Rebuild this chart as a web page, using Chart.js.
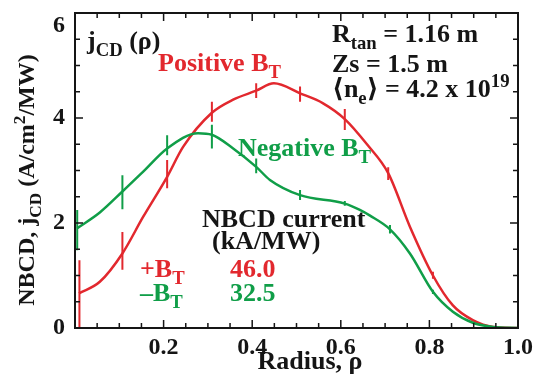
<!DOCTYPE html>
<html>
<head>
<meta charset="utf-8">
<script src="https://cdn.jsdelivr.net/npm/chart.js@4.4.0/dist/chart.umd.min.js"></script>
<style>
  html, body { margin: 0; padding: 0; background: #fff; }
  #wrap { width: 533px; height: 385px; }
</style>
</head>
<body>
<div id="wrap"><canvas id="c" width="533" height="385"></canvas></div>
<script>
// profiles (radius rho, j_CD in A/cm2/MW)
const rhoPos = [0.009, 0.056, 0.107, 0.154, 0.208, 0.244, 0.309, 0.357, 0.409, 0.449, 0.508, 0.56, 0.609, 0.66, 0.707, 0.756, 0.808, 0.853, 0.898, 0.944, 1.0];
const jPos   = [0.66, 0.88, 1.42, 2.12, 2.88, 3.45, 4.10, 4.35, 4.52, 4.66, 4.47, 4.28, 3.98, 3.49, 2.95, 1.93, 1.00, 0.43, 0.15, 0.02, 0];
const rhoNeg = [0.005, 0.056, 0.107, 0.154, 0.208, 0.278, 0.309, 0.357, 0.409, 0.44, 0.508, 0.609, 0.643, 0.666, 0.711, 0.756, 0.808, 0.853, 0.898, 0.944, 1.0];
const jNeg   = [1.90, 2.20, 2.60, 2.98, 3.42, 3.71, 3.68, 3.42, 3.07, 2.82, 2.53, 2.37, 2.25, 2.14, 1.88, 1.42, 0.69, 0.31, 0.10, 0.02, 0];

// error bars
const barRhoPos = [0.01, 0.107, 0.208, 0.309, 0.409, 0.508, 0.609, 0.707, 0.808];
const barLoPos  = [-0.3, 1.11, 2.66, 3.93, 4.38, 4.31, 3.77, 2.82, 0.94];
const barHiPos  = [1.29, 1.83, 3.20, 4.31, 4.66, 4.60, 4.17, 3.06, 1.07];
const barRhoNeg = [0.005, 0.107, 0.208, 0.309, 0.409, 0.508, 0.609, 0.711, 0.808];
const barLoNeg  = [1.48, 2.26, 3.29, 3.42, 2.95, 2.44, 2.33, 1.80, 0.65];
const barHiNeg  = [2.25, 2.91, 3.67, 3.87, 3.23, 2.63, 2.42, 1.96, 0.73];

// axis ticks
const xTicks = [0.2, 0.4, 0.6, 0.8, 1.0];
const yTicks = [0, 2, 4, 6];

// NBCD current (kA/MW)
const currentPos = '46.0';
const currentNeg = '32.5';

const RED = '#e2282e';
const GREEN = '#109e48';
const INK = '#151515';
const FAM = '"Liberation Serif", "DejaVu Serif", serif';

function pts(xs, ys) { return xs.map((x, i) => ({ x: x, y: ys[i] })); }

// text with sub/superscripts, left aligned at (x, y baseline)
function rich(ctx, parts, x, y, size, color) {
  let cx = x;
  for (const p of parts) {
    const s = (p.sub || p.sup) ? size * 0.72 : size;
    ctx.font = 'bold ' + s + 'px ' + FAM;
    const dy = p.sub ? size * 0.28 : (p.sup ? -size * 0.38 : 0);
    ctx.fillStyle = color;
    ctx.fillText(p.t, cx, y + dy);
    cx += ctx.measureText(p.t).width;
  }
  return cx - x;
}
function richWidth(ctx, parts, size) {
  let w = 0;
  for (const p of parts) {
    const s = (p.sub || p.sup) ? size * 0.72 : size;
    ctx.font = 'bold ' + s + 'px ' + FAM;
    w += ctx.measureText(p.t).width;
  }
  return w;
}

const framePlugin = {
  id: 'frame',
  afterDatasetsDraw(chart) {
    const { ctx, chartArea: a, scales: { x, y } } = chart;
    ctx.save();

    // error bars
    ctx.beginPath();
    ctx.rect(a.left, a.top, a.right - a.left, a.bottom - a.top);
    ctx.clip();
    ctx.lineWidth = 2;
    const bars = (xs, lo, hi, col) => {
      ctx.strokeStyle = col;
      ctx.beginPath();
      xs.forEach((r, i) => {
        const px = x.getPixelForValue(r);
        ctx.moveTo(px, y.getPixelForValue(lo[i]));
        ctx.lineTo(px, y.getPixelForValue(hi[i]));
      });
      ctx.stroke();
    };
    bars(barRhoNeg, barLoNeg, barHiNeg, GREEN);
    bars(barRhoPos, barLoPos, barHiPos, RED);
    ctx.restore();

    ctx.save();
    // frame
    ctx.strokeStyle = INK;
    ctx.lineWidth = 2;
    ctx.strokeRect(a.left, a.top, a.right - a.left, a.bottom - a.top);

    // inward ticks on all four sides
    ctx.lineWidth = 1.5;
    ctx.beginPath();
    for (let k = 1; k < 20; k++) {
      const v = k * 0.05;
      const len = (k % 4 === 0) ? 8 : 5;
      const px = x.getPixelForValue(v);
      ctx.moveTo(px, a.bottom); ctx.lineTo(px, a.bottom - len);
      ctx.moveTo(px, a.top); ctx.lineTo(px, a.top + len);
    }
    for (let k = 1; k < 12; k++) {
      const v = k * 0.5;
      const len = (k % 4 === 0) ? 8 : 5;
      const py = y.getPixelForValue(v);
      ctx.moveTo(a.left, py); ctx.lineTo(a.left + len, py);
      ctx.moveTo(a.right, py); ctx.lineTo(a.right - len, py);
    }
    ctx.stroke();

    ctx.textBaseline = 'alphabetic';
    ctx.textAlign = 'left';
    const S = 26;

    // annotations
    rich(ctx, [{ t: 'j' }, { t: 'CD', sub: true }, { t: ' (ρ)' }], 87, 49, S, INK);
    rich(ctx, [{ t: 'Positive B' }, { t: 'T', sub: true }], 158, 71, S, RED);
    rich(ctx, [{ t: 'Negative B' }, { t: 'T', sub: true }], 238, 156, S, GREEN);

    rich(ctx, [{ t: 'R' }, { t: 'tan', sub: true }, { t: ' = 1.16 m' }], 332, 42, S, INK);
    rich(ctx, [{ t: 'Zs = 1.5 m' }], 332, 72, S, INK);
    rich(ctx, [{ t: '⟨n' }, { t: 'e', sub: true }, { t: '⟩ = 4.2 x 10' }, { t: '19', sup: true }], 332, 97, S, INK);

    rich(ctx, [{ t: 'NBCD current' }], 202, 227, S, INK);
    rich(ctx, [{ t: '(kA/MW)' }], 212, 249, S, INK);
    rich(ctx, [{ t: '+B' }, { t: 'T', sub: true }], 140, 277, S, RED);
    rich(ctx, [{ t: currentPos }], 230, 277, S, RED);
    rich(ctx, [{ t: '\u2013B' }, { t: 'T', sub: true }], 140, 301, S, GREEN);
    rich(ctx, [{ t: currentNeg }], 230, 301, S, GREEN);

    // x title
    const xt = [{ t: 'Radius, ρ' }];
    rich(ctx, xt, 310 - richWidth(ctx, xt, S) / 2, 369, S, INK);

    // y title (rotated)
    const yt = [{ t: 'NBCD, j' }, { t: 'CD', sub: true }, { t: ' (A/cm' }, { t: '2', sup: true }, { t: '/MW)' }];
    ctx.translate(34, 180);
    ctx.rotate(-Math.PI / 2);
    rich(ctx, yt, -richWidth(ctx, yt, 24) / 2, 0, 24, INK);
    ctx.restore();
  }
};

const tickFont = { family: FAM, size: 24, weight: 'bold', lineHeight: 1.1 };

new Chart(document.getElementById('c'), {
  type: 'scatter',
  data: {
    datasets: [
      { data: pts(rhoNeg, jNeg), showLine: true, borderColor: GREEN, borderWidth: 2.5, pointRadius: 0, cubicInterpolationMode: 'monotone' },
      { data: pts(rhoPos, jPos), showLine: true, borderColor: RED, borderWidth: 2.5, pointRadius: 0, cubicInterpolationMode: 'monotone' }
    ]
  },
  options: {
    responsive: false,
    animation: false,
    layout: { padding: { top: 13, right: 15, left: 0, bottom: 0 } },
    plugins: { legend: { display: false }, tooltip: { enabled: false } },
    scales: {
      x: {
        type: 'linear', min: 0, max: 1,
        grid: { display: false, drawTicks: false }, border: { display: false },
        afterBuildTicks(s) { s.ticks = xTicks.map(v => ({ value: v })); },
        afterFit(s) { s.height = 57; s.paddingLeft = 0; s.paddingRight = 0; },
        ticks: { font: tickFont, color: INK, padding: 7, maxRotation: 0, autoSkip: false, callback: v => v.toFixed(1) }
      },
      y: {
        type: 'linear', min: 0, max: 6,
        grid: { display: false, drawTicks: false }, border: { display: false },
        afterBuildTicks(s) { s.ticks = yTicks.map(v => ({ value: v })); },
        afterFit(s) { s.width = 75; s.paddingTop = 0; s.paddingBottom = 0; },
        ticks: { font: tickFont, color: INK, padding: 10, autoSkip: false, callback: v => (v === 6 ? ['', '6'] : String(v)) }
      }
    }
  },
  plugins: [framePlugin]
});
</script>
</body>
</html>
